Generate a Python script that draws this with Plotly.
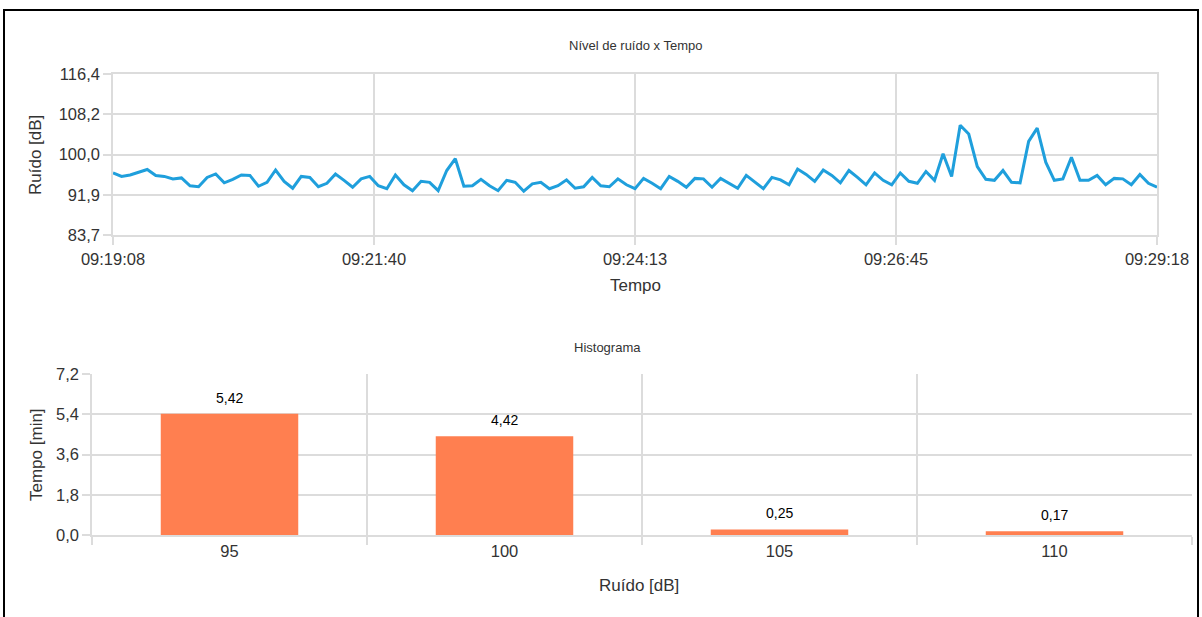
import plotly.graph_objects as go

# ---- data ----
sample_step_s = 5
noise_db = [
    96.3, 95.6, 95.9, 96.5, 97.0, 95.8, 95.6, 95.1, 95.3, 93.7,
    93.5, 95.4, 96.1, 94.3, 95.0, 95.9, 95.8, 93.6, 94.4, 96.9,
    94.6, 93.2, 95.6, 95.4, 93.5, 94.2, 96.1, 94.8, 93.4, 95.1,
    95.6, 93.7, 93.1, 95.9, 93.9, 92.7, 94.6, 94.4, 92.7, 96.8,
    99.2, 93.6, 93.7, 95.0, 93.7, 92.7, 94.8, 94.4, 92.6, 94.1,
    94.4, 93.1, 93.7, 94.9, 93.2, 93.5, 95.4, 93.7, 93.5, 95.1,
    93.9, 93.1, 95.2, 94.2, 93.1, 95.6, 94.6, 93.4, 95.2, 95.1,
    93.4, 95.2, 94.2, 93.2, 95.8, 94.4, 93.1, 95.4, 94.9, 93.9,
    97.1, 96.0, 94.6, 96.9, 95.8, 94.3, 96.8, 95.4, 93.9, 96.3,
    94.8, 93.9, 96.3, 94.6, 94.2, 96.6, 94.8, 100.2, 95.6, 106.0,
    104.2, 97.6, 95.0, 94.8, 96.8, 94.4, 94.3, 102.7, 105.4, 98.5,
    94.8, 95.1, 99.5, 94.8, 94.8, 95.8, 93.9, 95.2, 95.1, 93.9,
    96.0, 94.2, 93.4,
]
y_min, y_max = 83.7, 116.4
time_tick_labels = ["09:19:08", "09:21:40", "09:24:13", "09:26:45", "09:29:18"]
noise_tick_labels = ["83,7", "91,9", "100,0", "108,2", "116,4"]

hist_bins = ["95", "100", "105", "110"]
hist_minutes = [5.42, 4.42, 0.25, 0.17]
hist_ymax = 7.2

# ---- derived ----
W, H = 1202, 617
t_seconds = [i * sample_step_s for i in range(len(noise_db))]
t_end = t_seconds[-1]
n_t = len(time_tick_labels) - 1
x_tickvals = [t_end * k / n_t for k in range(n_t + 1)]
n_y = len(noise_tick_labels) - 1
y_tickvals = [y_min + (y_max - y_min) * k / n_y for k in range(n_y + 1)]
h_tickvals = [hist_ymax * k / 4 for k in range(5)]

def px(x):
    return x / W

def py(y):
    return 1 - y / H

GRID = "#dcdcdc"
TXT = "#333333"
FONT = "Liberation Sans, Arial, Helvetica, sans-serif"
TICK_SIZE = 16.5
AXT_SIZE = 17

fig = go.Figure()
fig.add_trace(go.Scatter(
    x=t_seconds, y=noise_db, mode="lines",
    line=dict(color="#1f9fdc", width=3),
    xaxis="x", yaxis="y", showlegend=False,
))
fig.add_trace(go.Bar(
    x=list(range(len(hist_bins))), y=hist_minutes,
    marker=dict(color="#ff7f50", line=dict(width=0)),
    width=0.5,
    xaxis="x2", yaxis="y2", showlegend=False,
))

axis_common = dict(
    showgrid=True, gridcolor=GRID, gridwidth=1.5,
    ticks="outside", ticklen=8, tickcolor=GRID, tickwidth=1.5,
    tickfont=dict(size=TICK_SIZE, color=TXT, family=FONT),
    zeroline=False, automargin=False,
    showline=True, linecolor=GRID, linewidth=1.5,
)

n_b = len(hist_bins)
fig.update_layout(
    width=W, height=H,
    margin=dict(l=0, r=0, t=0, b=0),
    paper_bgcolor="white", plot_bgcolor="white",
    separators=",.",
    font=dict(family=FONT, color=TXT),
    xaxis=dict(
        axis_common, domain=[px(113), px(1157)], anchor="y",
        range=[0, t_end], tickmode="array",
        tickvals=x_tickvals, ticktext=time_tick_labels, mirror=True,
    ),
    yaxis=dict(
        axis_common, domain=[py(235), py(74)], anchor="x",
        range=[y_min, y_max], tickmode="array",
        tickvals=y_tickvals, ticktext=noise_tick_labels, mirror=True,
    ),
    xaxis2=dict(
        axis_common, domain=[px(92), px(1192)], anchor="y2",
        range=[-0.5, n_b - 0.5],
        tickmode="array", tickvals=list(range(n_b)), ticktext=hist_bins,
        ticks="", showgrid=False,
        minor=dict(tickmode="array", tickvals=[i - 0.5 for i in range(n_b + 1)],
                   ticks="outside", ticklen=8, tickcolor=GRID, tickwidth=1.5,
                   showgrid=True, gridcolor=GRID, gridwidth=1.5),
    ),
    yaxis2=dict(
        axis_common, domain=[py(535), py(374)], anchor="x2",
        range=[0, hist_ymax], tickmode="array",
        tickvals=h_tickvals, tickformat=".1f",
    ),
)

annotations = [
    dict(text="Nível de ruído x Tempo", x=px(635), y=py(46), size=13),
    dict(text="Tempo", x=px(635), y=py(285), size=AXT_SIZE),
    dict(text="Ruído [dB]", x=px(36), y=py(155), textangle=-90, size=AXT_SIZE),
    dict(text="Histograma", x=px(607), y=py(348), size=13),
    dict(text="Ruído [dB]", x=px(639), y=py(585), size=AXT_SIZE),
    dict(text="Tempo [min]", x=px(36), y=py(455), textangle=-90, size=AXT_SIZE),
]
ann_list = []
for a in annotations:
    size = a.pop("size")
    a.update(xref="paper", yref="paper", showarrow=False,
             xanchor="center", yanchor="middle",
             font=dict(size=size, color=TXT, family=FONT))
    ann_list.append(a)

# value labels above bars
for i, v in enumerate(hist_minutes):
    ann_list.append(dict(
        x=i, y=v, xref="x2", yref="y2", text=f"{v:.2f}".replace(".", ","),
        showarrow=False, xanchor="center", yanchor="middle", yshift=16,
        font=dict(size=14, color="#000000", family=FONT),
    ))
fig.update_layout(annotations=ann_list)

fig.add_shape(type="rect", xref="paper", yref="paper",
              x0=px(4), x1=px(1198), y0=py(640), y1=py(10),
              line=dict(color="black", width=2), fillcolor="rgba(0,0,0,0)")

fig.write_html("out.html", config={"displayModeBar": False},
               post_script="document.body.style.margin='0';")
